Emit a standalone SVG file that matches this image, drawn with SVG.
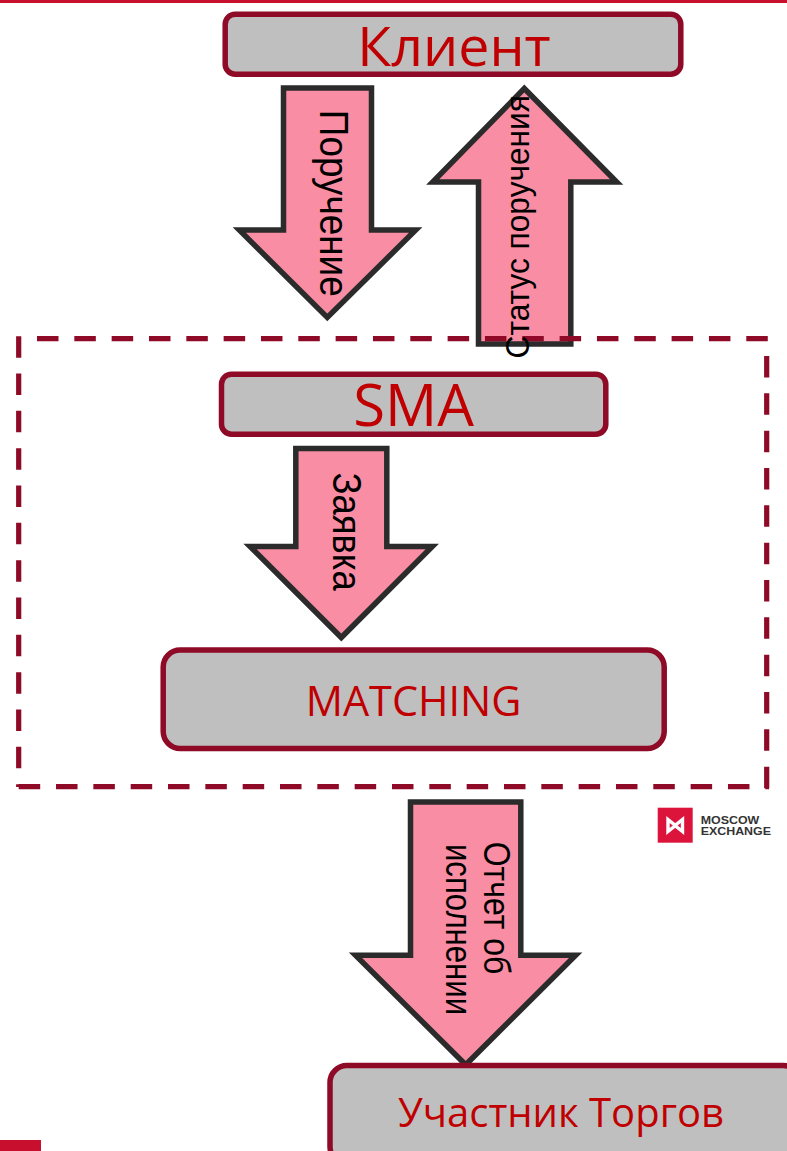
<svg xmlns="http://www.w3.org/2000/svg" width="787" height="1151" viewBox="0 0 787 1151">
<style>
.box{fill:#bfbfbf;stroke:#8f0a27;stroke-width:5.500}
.arr{fill:#f98da3;stroke:#2b2b2b;stroke-width:5.500;stroke-miterlimit:10}
.lbl{fill:#c00000;font-family:"Open Sans","Noto Sans",sans-serif;text-anchor:middle}
.v{fill:#000;font-family:"Liberation Sans",Arial,sans-serif;font-size:35px;text-anchor:middle}
.logo{font-family:"Liberation Sans",sans-serif;font-weight:700;font-size:10.700px;fill:#333}
</style>
<rect width="787" height="1151" fill="#fff"/>
<rect x="0" y="0" width="787" height="3" fill="#c8102e"/>
<rect x="0" y="1140" width="41" height="11" fill="#c8102e"/>
<g id="connectors">
<path id="a1" class="arr" d="M283.500 88H371.500V230H415.700L327.300 317.500L239.300 230H283.500Z"/>
<path id="a2" class="arr" d="M478.500 344H570.800V182H616.700L524.300 88.500L432.700 182H478.500Z"/>
<path id="a3" class="arr" d="M295.800 448.500H386.800V546.500H432.300L341.300 637.500L250 546.500H295.800Z"/>
<path id="a4" class="arr" d="M410.500 802H520.800V955.200H575.700L465.700 1064.800L355.500 955.200H410.500Z"/>
</g>
<g id="client"><rect class="box" x="225.200" y="14.200" width="455.600" height="60" rx="10"/><text class="lbl" x="454" y="66" font-size="55.500">Клиент</text></g>
<g id="sma"><rect class="box" x="221.500" y="374.200" width="384.300" height="60" rx="10"/><text class="lbl" x="413.500" y="426" font-size="58">SMA</text></g>
<g id="matching"><rect class="box" x="163.200" y="650" width="501" height="98.500" rx="17"/><text class="lbl" x="413.500" y="716" font-size="41.400">MATCHING</text></g>
<g id="participant"><rect class="box" x="330" y="1065.500" width="470" height="98" rx="17"/><text class="lbl" x="561" y="1127" font-size="40">Участник Торгов</text></g>
<g id="frame"><path d="M18.700 336.200V787M37 338.700H769M766.700 356V790M18.700 786.700H769" fill="none" stroke="#8f0a27" stroke-width="5.200" stroke-dasharray="21.500 15.830"/></g>
<g id="labels">
<text class="v" transform="translate(320 203.300) rotate(90) scale(1.055 1.180)">Поручение</text>
<text class="v" transform="translate(529.300 226.700) rotate(-90) scale(.906 .970)">Статус поручения</text>
<text class="v" transform="translate(333.300 531.700) rotate(90) scale(1.040 1.180)">Заявка</text>
<text class="v" transform="translate(484 908) rotate(90) scale(.915 1.030)">Отчет об</text>
<text class="v" transform="translate(446 929.500) rotate(90) scale(.890 1.040)">исполнении</text>
</g>
<g id="logo">
<rect x="657.700" y="807.700" width="35" height="35" fill="#dc143c"/>
<path d="M668 819.500L675.200 825.300L682.500 819.500V831.500L675.200 825.700L668 831.500Z" fill="#dc143c" stroke="#fff" stroke-width="3.400"/>
<text class="logo" x="700.700" y="823.500" textLength="58.600" lengthAdjust="spacingAndGlyphs">MOSCOW</text>
<text class="logo" x="700.700" y="835" textLength="70.300" lengthAdjust="spacingAndGlyphs">EXCHANGE</text>
</g>
</svg>
